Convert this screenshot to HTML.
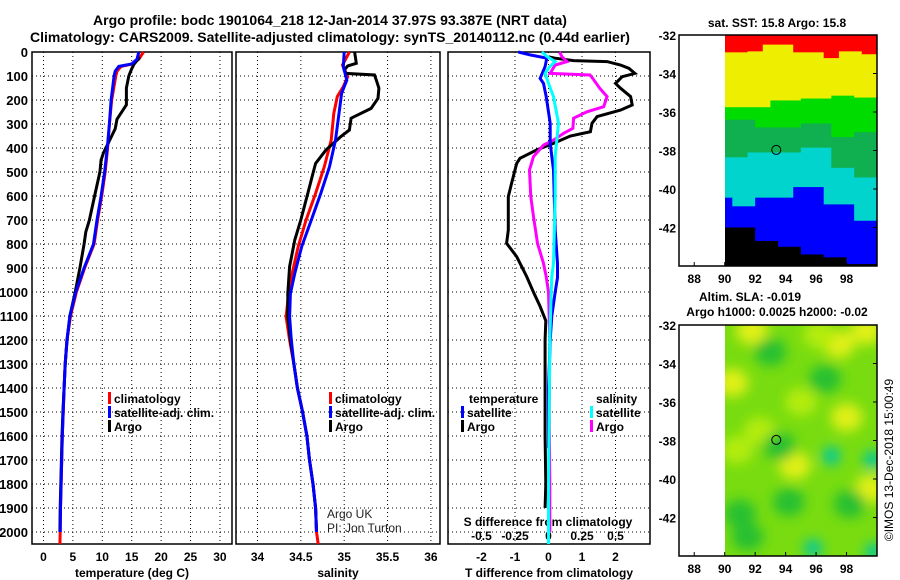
<!DOCTYPE html>
<html><head><meta charset="utf-8"><style>
body{margin:0;background:#fff;}
svg{display:block;font-family:"Liberation Sans",sans-serif;font-weight:bold;}
</style></head><body>
<svg id="chart" width="900" height="580" viewBox="0 0 900 580" xmlns="http://www.w3.org/2000/svg">
<defs>
<filter id="blur" x="-20%" y="-20%" width="140%" height="140%"><feGaussianBlur stdDeviation="6"/></filter>
<clipPath id="clipTop"><rect x="725" y="35" width="152" height="231"/></clipPath>
<clipPath id="clipBot"><rect x="725" y="325" width="152" height="231"/></clipPath>
</defs>
<text x="330" y="25" font-size="14" text-anchor="middle">Argo profile: bodc 1901064_218 12-Jan-2014 37.97S 93.387E (NRT data)</text>
<text x="330" y="42" font-size="14" text-anchor="middle">Climatology: CARS2009. Satellite-adjusted climatology: synTS_20140112.nc (0.44d earlier)</text>
<g id="layer"></g>
</svg>
<script>
// ---------- data ----------
const depthTicks = [0,100,200,300,400,500,600,700,800,900,1000,1100,1200,1300,1400,1500,1600,1700,1800,1900,2000];
const tempTicks = [0,5,10,15,20,25,30];
const salTicks = [34,34.5,35,35.5,36];
const salTickLabels = ["34","34.5","35","35.5","36"];
const tdiffTicks = [-2,-1,0,1,2];
const sdiffTicks = [-0.5,-0.25,0,0.25,0.5];
const sdiffTickLabels = ["-0.5","-0.25","0","0.25","0.5"];

const tClimDepth = [0,30,50,60,80,100,200,300,400,500,600,700,800,900,1000,1100,1200,1300,1400,1500,1600,1700,1800,1900,2000,2050];
const tClim      = [17.0,16.2,15.1,13.2,12.5,12.3,11.6,11.2,10.9,10.5,9.9,9.2,8.6,7.0,5.6,4.6,4.0,3.7,3.5,3.35,3.2,3.1,3.0,2.9,2.85,2.8];
const tSatDepth  = [0,30,50,60,80,100,200,300,400,500,600,700,800,900,1000,1100,1200,1300,1400,1500,1600,1700,1800,1900,2000];
const tSat       = [16.2,15.9,15.0,12.8,12.2,12.0,11.5,11.2,10.85,10.4,9.8,9.1,8.5,6.9,5.5,4.5,4.0,3.7,3.5,3.35,3.2,3.1,3.0,2.9,2.85];
const tArgoDepth = [20,30,50,70,100,150,200,220,280,320,350,380,420,450,500,600,700,750,800,900,1000,1100,1200,1300,1400,1500,1600,1700,1800,1900,2000];
const tArgo      = [16.3,16.1,15.4,15.0,14.5,14.1,14.1,14.1,12.5,12.2,11.6,11.0,10.2,9.8,9.6,8.7,7.8,7.2,6.9,6.2,5.4,4.5,4.0,3.7,3.5,3.3,3.15,3.05,2.95,2.85,2.8];

const sClimDepth = [0,54,103,144,186,256,367,478,589,700,811,922,1006,1103,1200,1300,1400,1500,1600,1700,1800,1900,2000,2050];
const sClim      = [35.06,34.98,35.04,34.99,34.92,34.88,34.85,34.77,34.67,34.56,34.47,34.40,34.36,34.33,34.37,34.42,34.46,34.52,34.57,34.60,34.64,34.67,34.68,34.70];
const sSatDepth  = [0,61,117,172,256,367,478,589,700,811,922,1006,1103,1200,1300,1400,1500,1600,1700,1800,1900,2000];
const sSat       = [35.0,34.99,35.03,34.97,34.94,34.90,34.83,34.73,34.62,34.51,34.43,34.38,34.37,34.39,34.42,34.46,34.52,34.57,34.60,34.64,34.67,34.68];
const sArgoDepth = [0,24,47,58,75,89,96,117,151,193,235,276,325,353,408,464,505,589,700,783,894,1006,1103,1200,1300,1400,1500,1600,1700,1800,1900,2000];
const sArgo      = [35.12,35.13,35.14,35.04,35.0,35.02,35.35,35.37,35.40,35.39,35.31,35.08,35.06,34.96,34.79,34.67,34.64,34.58,34.50,34.43,34.37,34.35,34.35,34.38,34.42,34.46,34.52,34.57,34.60,34.64,34.67,34.68];

const dtArgoDepth = [20,26,36,40,54,68,89,103,131,151,186,221,242,269,297,332,350,381,408,443,464,547,603,742,797,853,936,1000,1060,1120,1200,1400,1600,1800,1900];
const dtArgo      = [0.0,0.2,0.75,1.75,2.15,2.4,2.58,2.2,2.0,2.15,2.45,2.5,2.15,1.45,1.3,1.25,0.65,0.15,-0.35,-0.85,-0.95,-1.1,-1.2,-1.2,-1.25,-0.95,-0.65,-0.45,-0.25,-0.08,-0.1,-0.1,-0.1,-0.08,-0.1];
const dtSatDepth  = [0,12,26,61,110,131,186,297,381,492,742,881,940,1000,1100,1200,1400,1650];
const dtSat       = [-0.9,-0.55,-0.05,-0.1,-0.25,-0.15,-0.07,0.05,0.05,0.15,0.2,0.27,0.27,0.2,0.1,0.05,0.0,0.0];
const dsSatDepth  = [0,19,40,61,89,131,186,297,367,436,603,881,936,1000,1200,1500,1800,2050];
const dsSat       = [-0.05,-0.01,0.05,0.01,-0.025,0.0,0.037,0.075,0.062,0.05,0.05,0.037,0.025,0.02,0.01,0.005,0.0,0.0];
const dsArgoDepth = [0,19,40,54,89,96,110,151,186,228,249,276,318,339,367,388,436,492,603,686,797,881,936,1000,1200,1500,1800,2000];
const dsArgo      = [0.082,0.1,0.137,0.05,0.012,0.31,0.33,0.382,0.437,0.412,0.287,0.187,0.182,0.112,0.037,-0.037,-0.112,-0.142,-0.132,-0.112,-0.082,-0.037,-0.017,0.0,0.01,0.005,0.01,0.01];

// top map (SST) band boundaries: latitude of lower edge per 0.5deg column from 90E
const redBottom    = [-32.9,-32.9,-32.9,-32.85,-32.85,-32.5,-32.5,-32.5,-32.5,-32.9,-32.9,-32.9,-32.9,-33.2,-33.2,-32.85,-32.85,-32.85,-33.0,-33.0];
const yellowBottom = [-35.75,-35.75,-35.75,-35.75,-35.75,-35.75,-35.4,-35.4,-35.4,-35.4,-35.3,-35.3,-35.3,-35.3,-35.15,-35.15,-35.15,-35.25,-35.25,-35.25];
const greenBottom  = [-36.4,-36.4,-36.4,-36.4,-36.8,-36.8,-36.8,-36.8,-36.8,-36.8,-36.6,-36.6,-36.6,-36.6,-37.3,-37.3,-37.3,-37.05,-37.05,-37.05];
const dgreenBottom = [-38.35,-38.35,-38.35,-38.1,-38.1,-38.1,-38.1,-38.1,-38.1,-38.1,-37.85,-37.85,-37.85,-37.85,-38.9,-38.9,-38.9,-39.4,-39.4,-39.4];
const cyanBottom   = [-40.45,-40.9,-40.9,-40.9,-40.45,-40.45,-40.45,-40.45,-40.45,-39.9,-39.9,-39.9,-39.9,-40.8,-40.8,-40.8,-40.8,-41.65,-41.65,-41.65];
const blueBottom   = [-42.0,-42.0,-42.0,-42.0,-42.7,-42.7,-42.7,-43.0,-43.0,-43.0,-43.4,-43.4,-43.4,-43.55,-43.55,-43.55,-43.9,-43.9,-43.9,-43.9];
// bottom map (SLA) blobs
const blobLon = [90.5,97.5,91.8,99.3,94.6,98.0,99.6,92.3,96.2,93.0,96.6,93.6,94.2,91.0,97.0,99.7,98.2,95.8,99.8,91.5,95.0,90.8];
const blobLat = [-35.0,-33.0,-32.3,-32.3,-39.3,-36.8,-40.5,-37.5,-32.5,-33.4,-34.8,-38.3,-41.2,-41.8,-38.8,-39.0,-41.3,-43.6,-43.8,-43.0,-36.0,-38.5];
const blobKind = ["y","y","y","y","y","y","y","l","l","d","d","d","d","d","t","t","d","t","t","d","l","l"];
const argoLon = 93.387, argoLat = -37.97;

// ---------- drawing ----------
const NS="http://www.w3.org/2000/svg";
const layer=document.getElementById('layer');
function mk(tag,attrs,parent){const e=document.createElementNS(NS,tag);for(const k in attrs)e.setAttribute(k,attrs[k]);(parent||layer).appendChild(e);return e;}
const yTop=52, pxPerM=0.24, yBot=544;
function yD(d){return yTop+d*pxPerM;}
const panels=[
 {name:'temperature',x0:32,x1:232,v0:-1.95,v1:32.05},
 {name:'salinity',x0:236,x1:440,v0:33.752,v1:36.105},
 {name:'difference',x0:448,x1:650,v0:-3,v1:3.03}
];
function sx(p,v){return p.x0+(v-p.v0)/(p.v1-p.v0)*(p.x1-p.x0);}
function drawPanel(p,ticks,labels,title){
  const g=mk('g',{});
  
  
  const fr=mk('rect',{x:p.x0,y:yTop,width:p.x1-p.x0,height:yBot-yTop,fill:'none',stroke:'#000','stroke-width':1.5},g);
  
  
  depthTicks.forEach(d=>{
    const l=mk('line',{x1:p.x0,x2:p.x1,y1:yD(d),y2:yD(d),stroke:'#000','stroke-dasharray':'1,3','stroke-width':1},g);
    
    
  });
  ticks.forEach((t,i)=>{
    const x=sx(p,t);
    const l=mk('line',{x1:x,x2:x,y1:yTop,y2:yBot,stroke:'#000','stroke-dasharray':'1,3','stroke-width':1},g);
    
    
    const tx=mk('text',{x:x,y:561,'font-size':12,'text-anchor':'middle'},g);
    tx.textContent=labels[i];
    
    
  });
  const tt=mk('text',{x:(p.x0+p.x1)/2,y:577,'font-size':12,'text-anchor':'middle'},g);
  tt.textContent=title;
  
  
}
function line(p,vals,depths,color,name,scale){
  const pts=vals.map((v,i)=>sx(p,v*(scale||1)).toFixed(1)+','+yD(depths[i]).toFixed(1)).join(' ');
  const pl=mk('polyline',{points:pts,fill:'none',stroke:color,'stroke-width':3,'stroke-linejoin':'miter'});
  
  
}
drawPanel(panels[0],tempTicks,tempTicks.map(String),'temperature (deg C)');
drawPanel(panels[1],salTicks,salTickLabels,'salinity');
drawPanel(panels[2],tdiffTicks,tdiffTicks.map(String),'T difference from climatology');
depthTicks.forEach(d=>{
  const t=mk('text',{x:28,y:yD(d)+5,'font-size':13,'text-anchor':'end'});
  t.textContent=String(d);
  
  
});
sdiffTicks.forEach((s,i)=>{
  const t=mk('text',{x:sx(panels[2],s*4),y:540,'font-size':12,'text-anchor':'middle'});
  t.textContent=sdiffTickLabels[i];
  
  
});
{const t=mk('text',{x:548,y:526,'font-size':12,'text-anchor':'middle'});t.textContent='S difference from climatology';

}

line(panels[0],tClim,tClimDepth,'#f00','temp-climatology-line');
line(panels[0],tArgo,tArgoDepth,'#000','temp-argo-line');
line(panels[0],tSat,tSatDepth,'#00f','temp-satellite-line');
line(panels[1],sClim,sClimDepth,'#f00','sal-climatology-line');
line(panels[1],sArgo,sArgoDepth,'#000','sal-argo-line');
line(panels[1],sSat,sSatDepth,'#00f','sal-satellite-line');
line(panels[2],dtArgo,dtArgoDepth,'#000','tdiff-argo-line');
line(panels[2],dsArgo,dsArgoDepth,'#f0f','sdiff-argo-line',4);
line(panels[2],dtSat,dtSatDepth,'#00f','tdiff-satellite-line');
line(panels[2],dsSat,dsSatDepth,'#0ff','sdiff-satellite-line',4);

function legend(x,y,color,label,name){
  const r=mk('rect',{x:x,y:y-11,width:3,height:12,fill:color});
  
  
  const t=mk('text',{x:x+6,y:y,'font-size':12});
  t.textContent=label;
  
  
}
legend(108,403,'#f00','climatology','legend-temp-climatology');
legend(108,417,'#00f','satellite-adj. clim.','legend-temp-satellite');
legend(108,431,'#000','Argo','legend-temp-argo');
legend(329,403,'#f00','climatology','legend-sal-climatology');
legend(329,417,'#00f','satellite-adj. clim.','legend-sal-satellite');
legend(329,431,'#000','Argo','legend-sal-argo');
{const t=mk('text',{x:469,y:403,'font-size':12});t.textContent='temperature';

}
{const t=mk('text',{x:596,y:403,'font-size':12});t.textContent='salinity';

}
legend(461,417,'#00f','satellite','legend-tdiff-satellite');
legend(461,431,'#000','Argo','legend-tdiff-argo');
legend(590,417,'#0ff','satellite','legend-sdiff-satellite');
legend(590,431,'#f0f','Argo','legend-sdiff-argo');
{const t=mk('text',{x:327,y:518,'font-size':12,'font-weight':'normal','fill':'#222'});t.textContent='Argo UK';

}
{const t=mk('text',{x:327,y:532,'font-size':12,'font-weight':'normal','fill':'#222'});t.textContent='PI: Jon Turton';

}

// ---------- maps ----------
const mx0=679,mx1=877,lon0=87,lon1=100;
function mxp(lon){return mx0+(lon-lon0)/(lon1-lon0)*(mx1-mx0);}
function myp(lat,top){return top+(-32-lat)/12*231;}
function mapAxes(top,name){
  const g=mk('g',{});
  
  
  const r=mk('rect',{x:mx0,y:top,width:mx1-mx0,height:231,fill:'none',stroke:'#000','stroke-width':1.5},g);
  
  
  [88,90,92,94,96,98].forEach(lo=>{
    const t=mk('text',{x:mxp(lo),y:top+248,'font-size':12,'text-anchor':'middle'},g);
    t.textContent=String(lo);
    
    
    mk('line',{x1:mxp(lo),x2:mxp(lo),y1:top+231,y2:top+227,stroke:'#000'},g);
  });
  [-32,-34,-36,-38,-40,-42].forEach(la=>{
    const t=mk('text',{x:676,y:myp(la,top)+5,'font-size':12,'text-anchor':'end'},g);
    t.textContent=String(la);
    
    
    mk('line',{x1:mx1,x2:mx1-4,y1:myp(la,top),y2:myp(la,top),stroke:'#000'},g);
  });
  const c=mk('circle',{cx:mxp(argoLon),cy:myp(argoLat,top),r:4.5,fill:'none',stroke:'#000','stroke-width':1},g);
  
  
}
// SST map
{
  const top=35;
  const g=mk('g',{'clip-path':'url(#clipTop)'});
  
  
  const bands=[['#ff0000',null,redBottom],['#eeee00',redBottom,yellowBottom],['#00dc00',yellowBottom,greenBottom],['#10b050',greenBottom,dgreenBottom],['#00d4cc',dgreenBottom,cyanBottom],['#0000ff',cyanBottom,blueBottom],['#000000',blueBottom,null]];
  for(let k=0;k<20;k++){
    const lo=90+k*0.5;
    bands.forEach(b=>{
      const la0=b[1]?b[1][k]:-32, la1=b[2]?b[2][k]:-44;
      const r=mk('rect',{x:mxp(lo),y:myp(la0,top),width:mxp(lo+0.5)-mxp(lo)+0.5,height:myp(la1,top)-myp(la0,top)+0.5,fill:b[0]},g);
      
      
    });
  }
  mapAxes(top,'sst-map-axes');
  const t=mk('text',{x:777,y:27,'font-size':12,'text-anchor':'middle'});t.textContent='sat. SST: 15.8 Argo: 15.8';
  
  
}
// SLA map
{
  const top=325;
  const g=mk('g',{'clip-path':'url(#clipBot)'});
  
  
  const bg=mk('rect',{x:725,y:top,width:152,height:231,fill:'#78dc10'},g);
  
  
  const bl=mk('g',{filter:'url(#blur)'},g);
  const col={y:'#e0f018',l:'#b4ec10',d:'#28c030',t:'#00c8a0'};
  blobLon.forEach((lo,i)=>{
    const e=mk('ellipse',{cx:mxp(lo),cy:myp(blobLat[i],top),rx:blobKind[i]==='t'?9:16,ry:blobKind[i]==='t'?9:14,fill:col[blobKind[i]]},bl);
    
    
  });
  mapAxes(top,'sla-map-axes');
  const t1=mk('text',{x:750,y:301,'font-size':12,'text-anchor':'middle'});t1.textContent='Altim. SLA: -0.019';
  
  
  const t2=mk('text',{x:777,y:316,'font-size':12,'text-anchor':'middle'});t2.textContent='Argo h1000: 0.0025 h2000: -0.02';
  
  
  const t3=mk('text',{x:0,y:0,'font-size':12,'text-anchor':'middle','font-weight':'normal',transform:'translate(893,460) rotate(-90)'});t3.textContent='©IMOS 13-Dec-2018 15:00:49';
  
  
}
</script>
</body></html>
